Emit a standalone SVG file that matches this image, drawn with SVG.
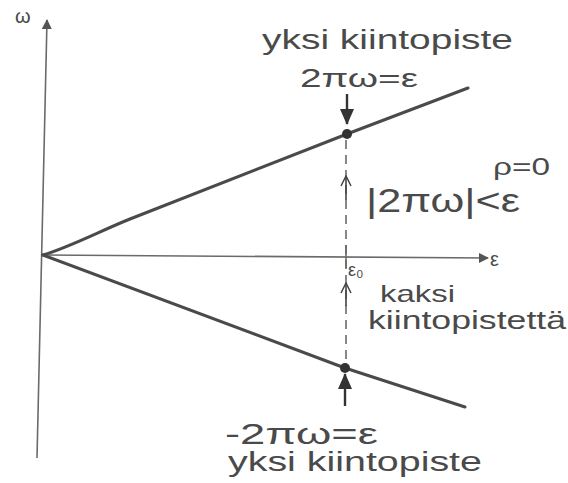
<svg xmlns="http://www.w3.org/2000/svg" width="568" height="483" viewBox="0 0 568 483">
<style>
.ax{stroke:#6a6a6a;stroke-width:1.6;fill:none}
.cv{stroke:#4a4a4a;stroke-width:3;fill:none;stroke-linecap:round;stroke-linejoin:round}
.ds{stroke:#555;stroke-width:1.4;fill:none;stroke-dasharray:9 6}
.th{stroke:#444;stroke-width:1.6;fill:none}
.tk{stroke:#333;stroke-width:2.4;fill:none}
text{font-family:"Liberation Sans",Arial,sans-serif;fill:#4a4a4a}
</style>
<defs>
<marker id="fa" markerWidth="10" markerHeight="10" refX="9" refY="5" orient="auto" markerUnits="userSpaceOnUse"><path d="M0,0 L10,5 L0,10 Z" fill="#555"/></marker>
<marker id="big" markerWidth="16" markerHeight="14" refX="15" refY="7" orient="auto" markerUnits="userSpaceOnUse"><path d="M0,0 L16,7 L0,14 Z" fill="#333"/></marker>
<marker id="open" markerWidth="12" markerHeight="12" refX="11" refY="6" orient="auto" markerUnits="userSpaceOnUse"><path d="M1,1 L11,6 L1,11" fill="none" stroke="#444" stroke-width="1.5"/></marker>
</defs>
<g id="connectors">
<path id="y-axis" class="ax" d="M37,458 L47,20" marker-end="url(#fa)"/>
<path id="x-axis" class="ax" d="M43,255 L488,258" marker-end="url(#fa)"/>
<path id="upper-curve" class="cv" d="M43,255 C70,247 100,231 130,219 L347,134 L468,88"/>
<path id="lower-curve" class="cv" d="M43,255 L345,368 L465,407"/>
<path id="dashed" class="ds" d="M346,140 L346,365"/>
<path id="tick" class="ax" d="M346,245 L346,268"/>
<path class="tk" d="M347,94 L347,124" marker-end="url(#big)"/>
<path class="tk" d="M345,406 L345,374" marker-end="url(#big)"/>
<path class="th" d="M346,200 L346,176" marker-end="url(#open)"/>
<path class="th" d="M346,306 L346,283" marker-end="url(#open)"/>
</g>
<g id="fixed-point-upper"><circle cx="347" cy="134" r="5" fill="#333"/></g>
<g id="fixed-point-lower"><circle cx="345" cy="368" r="5" fill="#333"/></g>
<g id="labels">
<text x="15" y="23" font-size="20">ω</text>
<text x="490" y="266" font-size="20">ε</text>
<text x="348" y="276" font-size="18">ε₀</text>
<text x="262" y="49" font-size="27" textLength="251" lengthAdjust="spacingAndGlyphs">yksi kiintopiste</text>
<text x="300" y="87" font-size="26" textLength="118" lengthAdjust="spacingAndGlyphs">2πω=ε</text>
<text x="493" y="175" font-size="23" textLength="57" lengthAdjust="spacingAndGlyphs">ρ=0</text>
<text x="366" y="212" font-size="33" textLength="154" lengthAdjust="spacingAndGlyphs">|2πω|&lt;ε</text>
<text x="380" y="302" font-size="24" textLength="75" lengthAdjust="spacingAndGlyphs">kaksi</text>
<text x="368" y="329" font-size="26" textLength="198" lengthAdjust="spacingAndGlyphs">kiintopistettä</text>
<text x="225" y="444" font-size="30" textLength="153" lengthAdjust="spacingAndGlyphs">-2πω=ε</text>
<text x="228" y="471" font-size="27" textLength="254" lengthAdjust="spacingAndGlyphs">yksi kiintopiste</text>
</g>
</svg>
